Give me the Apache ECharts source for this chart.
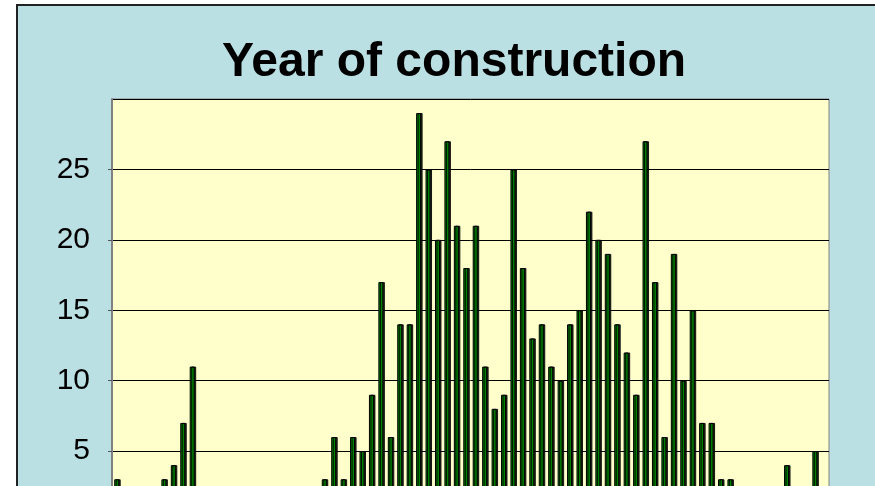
<!DOCTYPE html>
<html>
<head>
<meta charset="utf-8">
<script src="https://cdn.jsdelivr.net/npm/echarts@6/dist/echarts.min.js"></script>
<style>
  html, body { margin: 0; padding: 0; background: #ffffff; overflow: hidden; width: 875px; height: 486px; }
  #frame { position: absolute; left: 16px; top: 4px; width: 920px; height: 640px; border: 2px solid #222; background: #BBE0E4; }
  #chart { position: absolute; left: 0; top: 0; width: 872px; height: 600px; }
</style>
</head>
<body>
<div id="frame"><div id="chart"></div></div>
<script>
const titleText = 'Year of construction';
const years = ['1930','1931','1932','1933','1934','1935','1936','1937','1938','1939',
  '1940','1941','1942','1943','1944','1945','1946','1947','1948','1949',
  '1950','1951','1952','1953','1954','1955','1956','1957','1958','1959',
  '1960','1961','1962','1963','1964','1965','1966','1967','1968','1969',
  '1970','1971','1972','1973','1974','1975','1976','1977','1978','1979',
  '1980','1981','1982','1983','1984','1985','1986','1987','1988','1989',
  '1990','1991','1992','1993','1994','1995','1996','1997','1998','1999',
  '2000','2001','2002','2003','2004','2005'];
const counts = [3,0,0,0,0,3,4,7,11,0,
  0,0,0,0,0,0,0,0,0,0,
  0,0,3,6,3,6,5,9,17,6,
  14,14,29,25,20,27,21,18,21,11,
  8,9,25,18,13,14,11,10,14,15,
  22,20,19,14,12,9,27,17,6,19,
  10,15,7,7,3,3,0,0,0,0,
  0,4,0,0,5,0];
const yTicks = [0,5,10,15,20,25,30];

const chart = echarts.init(document.getElementById('chart'), null, { renderer: 'canvas' });
chart.setOption({
  animation: false,
  backgroundColor: 'transparent',
  title: {
    text: titleText,
    left: 'center',
    top: 28,
    textStyle: { fontFamily: 'Liberation Sans, Arial, sans-serif', fontWeight: 'bold', fontSize: 48, color: '#000' }
  },
  grid: {
    left: 94, top: 93, width: 717, height: 422.5,
    show: true, backgroundColor: '#FFFFCC', borderColor: '#808080', borderWidth: 1
  },
  xAxis: {
    type: 'category',
    data: years,
    axisLine: { lineStyle: { color: '#808080' } },
    axisTick: { show: false },
    axisLabel: { show: false }
  },
  yAxis: {
    type: 'value',
    min: yTicks[0], max: yTicks[yTicks.length - 1], interval: 5,
    axisLine: { show: true, lineStyle: { color: '#808080', width: 2 } },
    axisTick: { show: true, length: 4, lineStyle: { color: '#555' } },
    axisLabel: {
      showMaxLabel: false,
      margin: 22,
      fontFamily: 'Liberation Sans, Arial, sans-serif',
      fontSize: 30,
      color: '#000',
      padding: [0, 0, 10, 0]
    },
    splitLine: { lineStyle: { color: '#000', width: 1 } }
  },
  series: [{
    type: 'bar',
    data: counts,
    barWidth: 5,
    itemStyle: {
      color: '#008000', borderColor: '#000', borderWidth: 1,
      shadowColor: 'rgba(0,0,0,0.85)', shadowOffsetX: 1.5, shadowOffsetY: 0, shadowBlur: 0
    }
  }]
});
</script>
</body>
</html>
